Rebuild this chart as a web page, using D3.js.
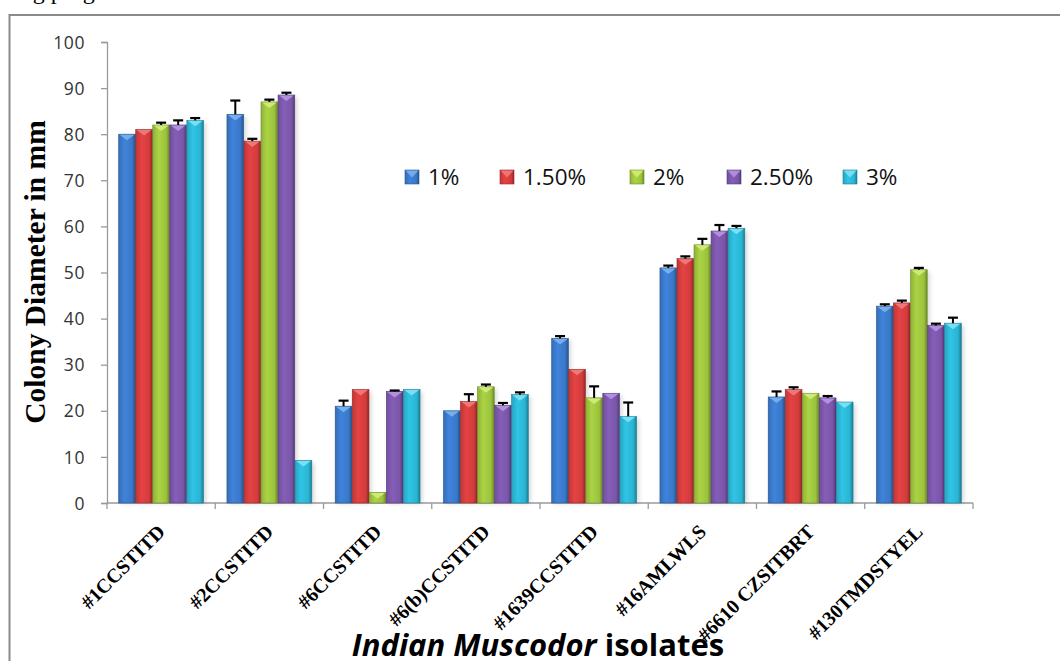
<!DOCTYPE html>
<html>
<head>
<meta charset="utf-8">
<script src="https://cdn.jsdelivr.net/npm/d3@7"></script>
<style>
  html, body { margin: 0; padding: 0; background: #fff; }
  svg { display: block; }
</style>
</head>
<body>
<svg id="chart" width="1060" height="661"></svg>
<script>
// Isolates on the x axis
const isolates = ["#1CCSTITD", "#2CCSTITD", "#6CCSTITD", "#6(b)CCSTITD",
                  "#1639CCSTITD", "#16AMLWLS", "#6610 CZSITBRT", "#130TMDSTYEL"];
// Concentration series
const seriesNames = ["1%", "1.50%", "2%", "2.50%", "3%"];
// Colony diameter (mm), one array per concentration, in isolate order
const v1  = [80.0, 84.3, 21.0, 20.0, 35.7, 51.0, 23.0, 42.7];
const v15 = [81.0, 78.5, 24.6, 22.0, 29.0, 53.0, 24.6, 43.4];
const v2  = [82.0, 87.0,  2.3, 25.2, 22.8, 56.0, 23.8, 50.6];
const v25 = [82.0, 88.5, 24.2, 21.2, 23.8, 59.0, 22.8, 38.5];
const v3  = [83.0,  9.2, 24.6, 23.5, 18.8, 59.6, 21.9, 39.0];
// Standard errors, same layout
const e1  = [0.0, 3.0, 1.2, 0.0, 0.5, 0.5, 1.2, 0.4];
const e15 = [0.0, 0.5, 0.0, 1.6, 0.0, 0.5, 0.5, 0.5];
const e2  = [0.5, 0.5, 0.0, 0.5, 2.5, 1.3, 0.0, 0.4];
const e25 = [1.0, 0.5, 0.2, 0.5, 0.0, 1.3, 0.4, 0.4];
const e3  = [0.5, 0.0, 0.0, 0.5, 3.0, 0.5, 0.0, 1.2];
const yTicks = [0, 10, 20, 30, 40, 50, 60, 70, 80, 90, 100];

const values = [v1, v15, v2, v25, v3];
const errors = [e1, e15, e2, e25, e3];
const colors = ["#3a78c8", "#d23c3c", "#9cc23e", "#7a56a8", "#2bb4d2"];
const lights = ["#7ab0ec", "#f07a7a", "#d2ec78", "#b592e0", "#7ee0f4"];
const darks  = ["#24548f", "#962626", "#6d8c25", "#553a7a", "#1a7f96"];

const svg = d3.select("#chart");
const plotLeft = 107, plotRight = 973, plotTop = 42, plotBottom = 503;

// outer frame of the figure
svg.append("rect").attr("x", 9.5).attr("y", 15).attr("width", 1100).attr("height", 700)
  .attr("fill", "none").attr("stroke", "#8a8a8a").attr("stroke-width", 2);

// clipped line of body text above the frame
svg.append("text").attr("x", 14).attr("y", -1)
  .attr("font-family", "Liberation Serif, Times New Roman, serif").attr("font-size", 24)
  .attr("fill", "#000").text("ing program");

const x0 = d3.scaleBand().domain(isolates).range([plotLeft, plotRight]).paddingInner(0.21).paddingOuter(0.105);
const x1 = d3.scaleBand().domain(seriesNames).range([0, x0.bandwidth()]).padding(0.02);
const y = d3.scaleLinear().domain([0, 100]).range([plotBottom, plotTop]);

const defs = svg.append("defs");
colors.forEach((c, i) => {
  const g = defs.append("linearGradient").attr("id", "grad" + i)
    .attr("x1", "0%").attr("x2", "100%").attr("y1", "0%").attr("y2", "0%");
  g.append("stop").attr("offset", "0%").attr("stop-color", d3.color(c).darker(0.25));
  g.append("stop").attr("offset", "35%").attr("stop-color", d3.color(c).brighter(0.25));
  g.append("stop").attr("offset", "80%").attr("stop-color", c);
  g.append("stop").attr("offset", "100%").attr("stop-color", darks[i]);
});
const blur = defs.append("filter").attr("id", "shadow").attr("x", "-30%").attr("y", "-10%")
  .attr("width", "160%").attr("height", "120%");
blur.append("feGaussianBlur").attr("stdDeviation", 2.5);

// y axis
const yAxis = svg.append("g").attr("transform", `translate(${plotLeft},0)`)
  .call(d3.axisLeft(y).tickValues(yTicks).tickSize(6).tickPadding(8));
yAxis.select(".domain").attr("stroke", "#9a9a9a").attr("stroke-width", 1.3);
yAxis.selectAll(".tick line").attr("stroke", "#9a9a9a").attr("stroke-width", 1.3);
yAxis.selectAll(".tick text").attr("font-family", "Open Sans, Liberation Sans, sans-serif")
  .attr("font-size", 17.5).attr("letter-spacing", 0.6).attr("fill", "#333")
  .attr("dy", "0.35em").attr("x", -22);

// x axis with category boundary ticks
const xAxisG = svg.append("g").attr("transform", `translate(0,${plotBottom})`);
xAxisG.append("line").attr("x1", plotLeft).attr("x2", plotRight).attr("y1", 0).attr("y2", 0)
  .attr("stroke", "#9a9a9a").attr("stroke-width", 1.3);
const step = x0.step();
const bounds = isolates.map(d => x0(d) - x0.paddingInner() * step / 2).concat([plotRight]);
xAxisG.selectAll("line.b").data(bounds).join("line").attr("class", "b")
  .attr("x1", d => d).attr("x2", d => d).attr("y1", 0).attr("y2", 6)
  .attr("stroke", "#9a9a9a").attr("stroke-width", 1.3);

// bars
const groups = svg.append("g").selectAll("g").data(isolates).join("g")
  .attr("transform", d => `translate(${x0(d)},0)`);

seriesNames.forEach((s, si) => {
  groups.each(function(iso, ci) {
    const g = d3.select(this);
    const v = values[si][ci], e = errors[si][ci];
    const bx = x1(s), bw = x1.bandwidth();
    // soft shadow
    g.append("rect").attr("x", bx + 2).attr("y", y(v) + 2).attr("width", bw)
      .attr("height", plotBottom - y(v) - 2).attr("fill", "#000").attr("opacity", 0.18)
      .attr("filter", "url(#shadow)");
    g.append("rect").attr("x", bx).attr("y", y(v)).attr("width", bw)
      .attr("height", plotBottom - y(v)).attr("fill", `url(#grad${si})`)
      .attr("stroke", darks[si]).attr("stroke-width", 0.6);
    // bevelled highlight on the top edge
    const th = Math.min(6, (plotBottom - y(v)) * 0.9);
    g.append("path")
      .attr("d", `M${bx + 1},${y(v) + 0.5} L${bx + bw - 1},${y(v) + 0.5} L${bx + bw / 2},${y(v) + th} Z`)
      .attr("fill", lights[si]).attr("opacity", 0.95);
    // error bar (upper)
    if (e > 0) {
      g.append("line").attr("x1", bx + bw / 2).attr("x2", bx + bw / 2)
        .attr("y1", y(v)).attr("y2", y(v + e)).attr("stroke", "#000").attr("stroke-width", 2);
      g.append("line").attr("x1", bx + bw / 2 - 5).attr("x2", bx + bw / 2 + 5)
        .attr("y1", y(v + e)).attr("y2", y(v + e)).attr("stroke", "#000").attr("stroke-width", 2.2);
    }
  });
});

// rotated category labels
svg.append("g").selectAll("text").data(isolates).join("text")
  .attr("transform", d => `translate(${x0(d) + x0.bandwidth() / 2 + 5},${plotBottom + 30}) rotate(-45)`)
  .attr("text-anchor", "end")
  .attr("font-family", "Liberation Serif, Times New Roman, serif")
  .attr("font-weight", "bold").attr("font-size", 20).attr("fill", "#000")
  .text(d => d);

// axis titles
svg.append("text")
  .attr("transform", `translate(45,272) rotate(-90)`)
  .attr("text-anchor", "middle")
  .attr("font-family", "Liberation Serif, Times New Roman, serif")
  .attr("font-weight", "bold").attr("font-size", 29.5).attr("fill", "#000")
  .text("Colony Diameter in mm");

const xt = svg.append("text").attr("x", 538).attr("y", 656).attr("text-anchor", "middle")
  .attr("font-family", "Open Sans, Liberation Sans, sans-serif")
  .attr("font-weight", "bold").attr("font-size", 31).attr("fill", "#000");
xt.append("tspan").attr("font-style", "italic").text("Indian Muscodor");
xt.append("tspan").text(" isolates");

// legend
const legendX = [405, 500, 630, 727, 843];
const lg = svg.append("g").selectAll("g").data(seriesNames).join("g")
  .attr("transform", (d, i) => `translate(${legendX[i]},177)`);
lg.append("rect").attr("x", 0).attr("y", -7).attr("width", 14).attr("height", 14)
  .attr("fill", (d, i) => `url(#grad${i})`).attr("stroke", (d, i) => darks[i]).attr("stroke-width", 0.6);
lg.append("path").attr("d", "M0.5,-6.5 L13.5,-6.5 L7,0.5 Z")
  .attr("fill", (d, i) => lights[i]).attr("opacity", 0.9);
lg.append("text").attr("x", 23).attr("y", 0).attr("dy", "0.36em")
  .attr("font-family", "Open Sans, Liberation Sans, sans-serif")
  .attr("font-size", 22.5).attr("fill", "#111").text(d => d);
</script>
</body>
</html>
